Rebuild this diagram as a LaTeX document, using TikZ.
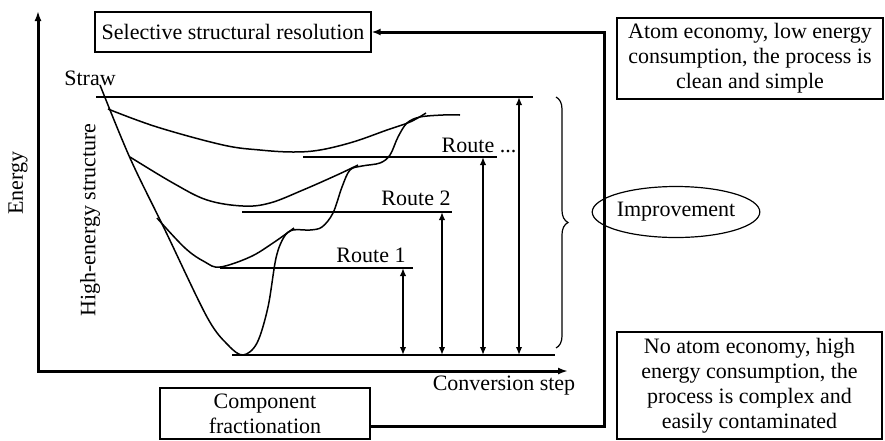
\documentclass[tikz,border=0pt]{standalone}
\usepackage{fontspec}
\setmainfont{Liberation Serif}
\usetikzlibrary{arrows.meta,decorations.pathreplacing,shapes.geometric}

\tikzset{
  box/.style={draw, line width=1.2pt, align=center, inner sep=0pt},
  level/.style={draw, line width=1.5pt},
  curve/.style={draw, line width=1.5pt},
  axis/.style={draw, line width=3pt, {Latex[length=10pt,width=7pt]}-{Latex[length=10pt,width=7pt]}},
  gap/.style={draw, line width=2.2pt, {Latex[length=8pt,width=6.5pt]}-{Latex[length=8pt,width=6.5pt]}},
  flow/.style={draw, line width=3pt, -{Latex[length=9pt,width=7pt]}},
}

\begin{document}
\begin{tikzpicture}[x=1pt,y=-1pt,font=\fontsize{22}{25}\selectfont]
\useasboundingbox (0,0) rectangle (885,440);

% boxes
\node[box, minimum width=276pt, minimum height=40pt] (sel) at (233,32) {Selective structural resolution};
\node[box, minimum width=266pt, minimum height=81pt] (good) at (750,58.5) {Atom economy, low energy\\consumption, the process is\\clean and simple};
\node[box, minimum width=265pt, minimum height=107pt] (bad) at (749.5,385.5) {No atom economy, high\\energy consumption, the\\process is complex and\\easily contaminated};
\node[box, minimum width=210pt, minimum height=51pt] (frac) at (265,413.5) {Component\\fractionation};
\node[draw, ellipse, line width=1.2pt, minimum width=138pt, minimum height=51pt, inner sep=0pt] (imp) at (676,212) {Improvement};

% axes
\coordinate (o) at (38,371);
\coordinate (ytop) at (38,11);
\coordinate (xend) at (568,371);
\path[axis] (ytop) -- (o) -- (xend);
\node[rotate=90] (energy) at (18,183) {Energy};
\node (conv) at (504,386) {Conversion step};
\node[rotate=90] (hes) at (90,220) {High-energy structure};
\node (straw) at (90,78) {Straw};

% energy levels
\coordinate (l4a) at (96,97);   \coordinate (l4b) at (533,97);
\coordinate (l3a) at (303,157); \coordinate (l3b) at (497,157);
\coordinate (l2a) at (242,212); \coordinate (l2b) at (452,212);
\coordinate (l1a) at (220,268); \coordinate (l1b) at (413,268);
\coordinate (l0a) at (232,355); \coordinate (l0b) at (555,355);
\foreach \i in {0,...,4}
  \path[level] (l\i a) -- (l\i b);
\node (r1) at (371,255) {Route 1};
\node (r2) at (416,198) {Route 2};
\node (r3) at (479,145) {Route ...};

% gaps
\foreach \i/\x/\y in {1/403/268,2/442/212,3/483/157,4/519/97} {
  \coordinate (t\i) at (\x,\y);
  \coordinate (b\i) at (\x,355);
  \path[gap] (t\i) -- (b\i);
}

% curves
\path[curve] plot[smooth, tension=0.55] coordinates {(100,85) (130,158) (165,230) (207,317) (228,345) (243,355) (257,343) (268,307) (276,258) (284,237) (293,230) (310,230) (322,227) (333,213) (342,187) (350,170) (362,166) (380,163) (390,155) (398,137) (407,123) (420,117) (443,115) (460,115)};
\path[curve] plot[smooth, tension=0.6] coordinates {(157,218) (185,248) (205,262) (220,267) (250,257) (273,243) (294,228)};
\path[curve] plot[smooth, tension=0.6] coordinates {(130,157) (173,183) (207,200) (243,206) (270,203) (303,190) (337,175) (358,165)};
\path[curve] plot[smooth, tension=0.6] coordinates {(108,109) (157,127) (223,145) (260,150) (293,152) (320,150) (353,142) (387,130) (410,122) (426,113)};

% brace
\coordinate (bt) at (556,97);
\coordinate (bb) at (556,348);
\path[draw, line width=1.2pt, decorate, decoration={brace, amplitude=12pt}] (bt) -- (bb);

% loop back
\coordinate (bend) at (604,426);
\path[flow] ([yshift=-12.5pt]frac.east) -- (bend) |- (sel.east);
\end{tikzpicture}
\end{document}
